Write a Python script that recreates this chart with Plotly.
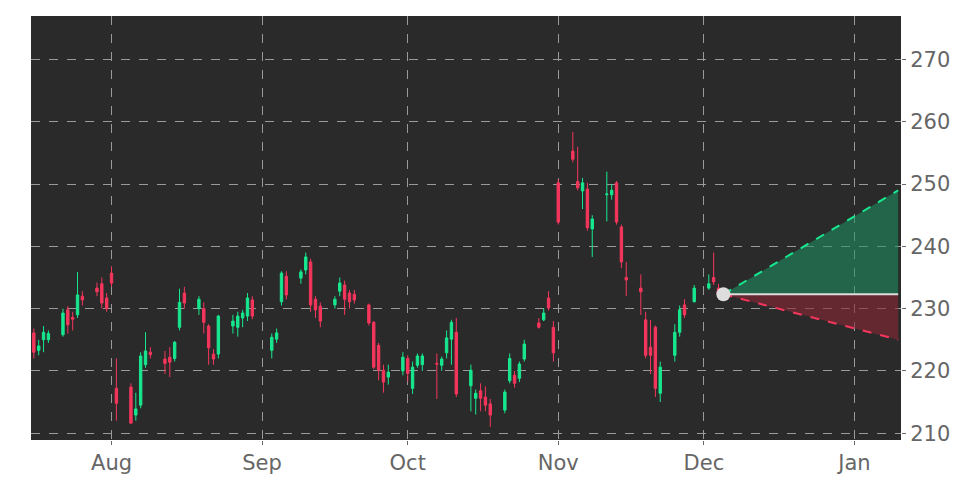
import pandas as pd
import plotly.graph_objects as go

dates = ["2024-07-15","2024-07-16","2024-07-17","2024-07-18","2024-07-19",
 "2024-07-22","2024-07-23","2024-07-24","2024-07-25","2024-07-26",
 "2024-07-29","2024-07-30","2024-07-31","2024-08-01","2024-08-02",
 "2024-08-05","2024-08-06","2024-08-07","2024-08-08","2024-08-09",
 "2024-08-12","2024-08-13","2024-08-14","2024-08-15","2024-08-16",
 "2024-08-19","2024-08-20","2024-08-21","2024-08-22","2024-08-23",
 "2024-08-26","2024-08-27","2024-08-28","2024-08-29","2024-08-30",
 "2024-09-03","2024-09-04","2024-09-05","2024-09-06",
 "2024-09-09","2024-09-10","2024-09-11","2024-09-12","2024-09-13",
 "2024-09-16","2024-09-17","2024-09-18","2024-09-19","2024-09-20",
 "2024-09-23","2024-09-24","2024-09-25","2024-09-26","2024-09-27",
 "2024-09-30","2024-10-01","2024-10-02","2024-10-03","2024-10-04",
 "2024-10-07","2024-10-08","2024-10-09","2024-10-10","2024-10-11",
 "2024-10-14","2024-10-15","2024-10-16","2024-10-17","2024-10-18",
 "2024-10-21","2024-10-22","2024-10-23","2024-10-24","2024-10-25",
 "2024-10-28","2024-10-29","2024-10-30","2024-10-31","2024-11-01",
 "2024-11-04","2024-11-05","2024-11-06","2024-11-07","2024-11-08",
 "2024-11-11","2024-11-12","2024-11-13","2024-11-14","2024-11-15",
 "2024-11-18","2024-11-19","2024-11-20","2024-11-21","2024-11-22",
 "2024-11-25","2024-11-26","2024-11-27","2024-11-29",
 "2024-12-02","2024-12-03","2024-12-04"]
opens = [226.5,226.1,223.3,225.0,225.0, 225.8,229.8,228.6,229.0,232.0,
 233.3,234.0,231.7,235.7,217.2, 217.4,212.9,214.5,221.0,223.0,
 221.9,222.2,222.0,227.0,232.5, 230.0,230.0,227.2,222.7,222.7,
 227.2,227.0,228.5,228.8,231.4, 223.3,225.1,231.1,235.2,
 234.9,236.2,237.5,231.5,230.4, 230.6,232.8,233.8,232.5,232.3,
 230.6,227.8,224.1,220.1,219.0, 220.0,222.0,217.2,220.9,221.0,
 221.2,220.9,222.9,225.1,226.2, 217.6,215.6,216.8,215.8,214.7,
 213.7,218.4,219.3,218.8,221.9, 227.7,228.2,231.7,227.0,250.2,
 255.3,250.4,248.9,249.2,242.8, 248.3,248.3,250.2,243.1,235.0,
 233.3,228.2,223.8,227.0,216.4, 222.5,226.2,230.6,231.1,
 233.3,235.0,233.3]
highs = [227.5,226.8,225.0,227.2,226.5, 230.0,230.4,229.5,235.9,232.8,
 234.2,235.0,232.5,236.8,222.0, 218.0,216.5,223.0,226.2,223.8,
 223.2,223.8,224.8,233.2,233.5, 232.0,231.0,227.5,223.5,229.0,
 229.0,229.5,229.8,232.5,232.0, 226.0,226.8,236.0,236.0,
 236.3,239.0,238.0,232.0,231.0, 232.0,235.0,234.5,233.0,233.0,
 230.8,228.0,224.5,221.0,221.0, 223.0,222.5,221.5,222.8,222.8,
 222.8,222.3,226.5,228.2,228.5, 221.0,217.0,218.0,217.5,215.5,
 217.0,222.8,220.0,221.5,225.0, 228.5,230.0,232.8,228.0,250.8,
 258.4,256.0,251.0,250.2,245.0, 252.0,250.0,250.5,243.5,237.5,
 235.5,229.5,228.2,227.3,221.5, 227.5,230.5,231.5,233.8,
 235.5,239.0,234.0]
lows = [225.5,222.0,222.5,223.0,224.5, 225.5,226.0,226.5,228.5,230.5,
 232.0,230.0,229.5,233.5,212.0, 211.6,212.0,214.0,220.5,222.0,
 219.5,219.0,221.5,226.5,230.0, 229.0,226.0,221.0,221.0,222.0,
 226.0,225.5,227.0,228.0,228.3, 222.0,224.5,230.5,231.5,
 234.0,235.5,229.5,228.5,227.0, 230.0,232.0,229.0,230.0,230.8,
 227.3,220.3,218.5,216.5,217.8, 219.3,218.3,216.3,220.5,220.0,
 215.5,220.0,222.0,221.0,215.8, 213.5,213.0,213.5,213.5,211.0,
 213.2,218.0,217.3,218.2,221.5, 226.8,228.0,229.7,221.5,243.5,
 253.5,249.0,246.0,242.5,238.3, 244.0,247.5,243.5,236.5,232.0,
 229.0,222.0,219.5,215.8,215.0, 221.5,225.5,228.5,231.0,
 233.0,233.8,231.8]
closes = [226.8,223.0,224.0,226.2,226.0, 229.3,227.4,228.3,232.2,231.4,
 232.7,230.9,230.0,234.1,214.8, 211.6,213.9,222.4,223.2,222.6,
 221.2,221.4,224.6,231.0,230.9, 231.5,227.8,223.7,221.9,228.8,
 228.0,228.8,229.3,231.7,228.8, 225.4,226.1,235.7,232.2,
 235.9,238.3,230.6,229.8,228.0, 231.5,234.1,231.5,231.1,231.4,
 227.7,220.6,220.1,218.2,219.8, 222.2,219.6,220.6,222.4,222.4,
 221.1,221.9,225.3,227.8,216.3, 220.1,216.4,215.6,214.5,212.9,
 216.6,222.0,218.0,221.1,224.3, 227.0,229.3,230.1,222.9,243.9,
 254.0,249.4,250.2,243.0,244.4, 248.4,249.0,243.9,237.5,234.6,
 232.7,222.5,222.5,217.2,220.6, 226.2,229.8,229.0,233.3,
 234.0,234.3,232.3]

proj_dates = ["2024-12-05", "2025-01-10"]
proj_up = [232.3, 249.0]
proj_down = [232.3, 225.0]
proj_mid = [232.3, 232.3]

fig = go.Figure()
fig.add_trace(go.Candlestick(x=pd.to_datetime(dates), open=opens, high=highs, low=lows, close=closes,
    increasing=dict(line=dict(color="#17e88f", width=1), fillcolor="#17e88f"),
    decreasing=dict(line=dict(color="#f5365c", width=1), fillcolor="#f5365c"),
    whiskerwidth=0, showlegend=False))
fig.add_trace(go.Scatter(x=proj_dates, y=proj_mid, mode="lines", line=dict(color="rgba(0,0,0,0)"), showlegend=False))
fig.add_trace(go.Scatter(x=proj_dates, y=proj_up, mode="lines", fill="tonexty",
    fillcolor="rgba(30,150,100,0.55)", line=dict(color="#17e88f", dash="dash", width=2), showlegend=False))
fig.add_trace(go.Scatter(x=proj_dates, y=proj_mid, mode="lines", line=dict(color="rgba(0,0,0,0)"), showlegend=False))
fig.add_trace(go.Scatter(x=proj_dates, y=proj_down, mode="lines", fill="tonexty",
    fillcolor="rgba(140,40,55,0.6)", line=dict(color="#f5365c", dash="dash", width=2), showlegend=False))
fig.add_trace(go.Scatter(x=proj_dates, y=proj_mid, mode="lines", line=dict(color="#dddddd", width=2), showlegend=False))
fig.add_trace(go.Scatter(x=proj_dates[:1], y=proj_mid[:1], mode="markers",
    marker=dict(color="#dddddd", size=14), showlegend=False))

fig.update_layout(width=972, height=486, paper_bgcolor="white", plot_bgcolor="#2a2a2a",
    margin=dict(l=23, r=79, t=8, b=54, autoexpand=False),
    font=dict(family="DejaVu Sans", color="#666666", size=21))
fig.update_xaxes(range=["2024-07-15 10:00", "2025-01-10 14:00"], rangeslider_visible=False,
    tickvals=["2024-08-01","2024-09-01","2024-10-01","2024-11-01","2024-12-01","2025-01-01"],
    ticktext=["Aug","Sep","Oct","Nov","Dec","Jan"],
    showgrid=True, gridcolor="#9a9a9a", griddash="dash", gridwidth=1,
    ticks="outside", ticklen=4, tickcolor="#666", zeroline=False)
fig.update_yaxes(side="right", range=[208.9, 277.0], tickvals=[210,220,230,240,250,260,270],
    showgrid=True, gridcolor="#9a9a9a", griddash="dash", gridwidth=1,
    ticks="outside", ticklen=4, tickcolor="#666", zeroline=False)
fig.write_html("out.html")
